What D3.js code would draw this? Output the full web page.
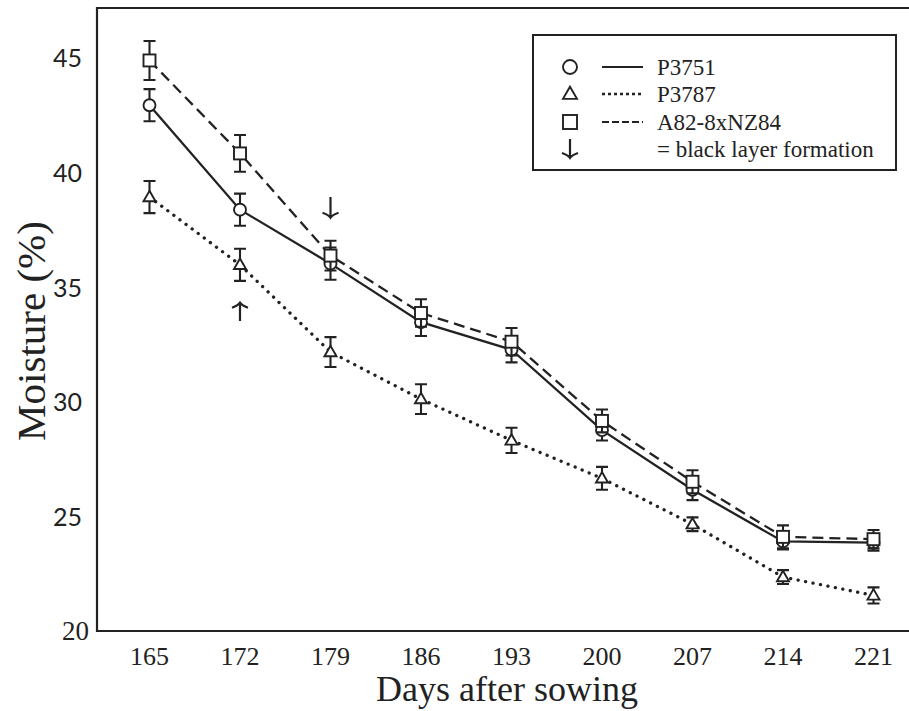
<!DOCTYPE html>
<html lang="en">
<head>
<meta charset="UTF-8">
<title>Moisture</title>
<script src="https://cdn.jsdelivr.net/npm/d3@7"></script>
<style>
  body { margin:0; background:#fff; }
</style>
</head>
<body>
<div id="chart"></div>
<script>
// data
var days = [165, 172, 179, 186, 193, 200, 207, 214, 221];
var p3751    = [42.9, 38.35, 36.0, 33.45, 32.25, 28.75, 26.15, 23.9, 23.85];
var p3751Err = [0.7, 0.7, 0.7, 0.6, 0.55, 0.45, 0.45, 0.35, 0.35];
var p3787    = [38.9, 35.95, 32.15, 30.1, 28.3, 26.65, 24.65, 22.35, 21.55];
var p3787Err = [0.7, 0.7, 0.65, 0.65, 0.55, 0.5, 0.3, 0.3, 0.35];
var a82      = [44.85, 40.8, 36.35, 33.85, 32.6, 29.15, 26.5, 24.1, 24.0];
var a82Err   = [0.85, 0.8, 0.65, 0.6, 0.6, 0.5, 0.5, 0.5, 0.4];
var yTicks = [20, 25, 30, 35, 40, 45];
// black layer formation arrows: day, value of tail, value of head
var arrowDays  = [172, 179];
var arrowFrom  = [33.5, 38.9];
var arrowTo    = [34.3, 38.0];

var seriesNames = ["P3751", "P3787", "A82-8xNZ84"];
var ink = "#222";
var SERIF = "'Liberation Serif','DejaVu Serif',serif";
var SANS = "Lato,'Open Sans',sans-serif";

var W = 909, H = 711;
var plotL = 97, plotT = 8, plotB = 631;

var x = d3.scaleLinear().domain([165, 221]).range([149.5, 873.5]);
var y = d3.scaleLinear().domain([20, 45]).range([631, 57]);

var svg = d3.select("#chart").append("svg")
  .attr("width", W).attr("height", H);

// frame (left, top, bottom)
svg.append("path")
  .attr("d", "M" + W + "," + plotT + "H" + plotL + "V" + plotB + "H" + W)
  .attr("fill", "none").attr("stroke", ink).attr("stroke-width", 2.2);

// y tick labels
svg.selectAll("text.ytick").data(yTicks).enter().append("text")
  .attr("class", "ytick")
  .attr("font-family", function(d){ return d === 20 ? SERIF : SANS; })
  .attr("fill", ink)
  .attr("x", function(d){ return d === 20 ? 89 : 82; })
  .attr("y", function(d){ return y(d); })
  .attr("text-anchor", "end")
  .attr("dominant-baseline", "central")
  .attr("font-size", function(d){ return d === 20 ? 27 : 25; })
  .text(function(d){ return d; });

// x tick labels
svg.selectAll("text.xtick").data(days).enter().append("text")
  .attr("class", "xtick")
  .attr("font-family", SERIF).attr("fill", ink)
  .attr("x", function(d){ return x(d); })
  .attr("y", 665)
  .attr("text-anchor", "middle")
  .attr("font-size", 26)
  .text(function(d){ return d; });

// axis titles
svg.append("text")
  .attr("font-family", SERIF).attr("fill", ink)
  .attr("x", 507).attr("y", 701)
  .attr("text-anchor", "middle").attr("font-size", 36)
  .text("Days after sowing");

svg.append("text")
  .attr("font-family", SERIF).attr("fill", ink)
  .attr("transform", "translate(45,331) rotate(-90)")
  .attr("text-anchor", "middle").attr("font-size", 41)
  .text("Moisture (%)");

// series setup
var series = [
  {name: seriesNames[0], vals: p3751, err: p3751Err, shape: "circle",   dash: null},
  {name: seriesNames[1], vals: p3787, err: p3787Err, shape: "triangle", dash: "0.1 7.5"},
  {name: seriesNames[2], vals: a82,   err: a82Err,   shape: "square",   dash: "11 6"}
];

function marker(g, shape, size) {
  if (shape === "circle") {
    g.append("circle").attr("r", size / 2);
  } else if (shape === "square") {
    g.append("rect").attr("x", -size / 2).attr("y", -size / 2)
      .attr("width", size).attr("height", size);
  } else {
    var h = size * 0.87;
    g.append("path").attr("d", "M0," + (-h * 0.6) + "L" + (size / 2) + "," + (h * 0.4) +
      "L" + (-size / 2) + "," + (h * 0.4) + "Z");
  }
  g.selectAll("*").attr("fill", "#fff").attr("stroke", ink).attr("stroke-width", 1.9);
}

var line = d3.line()
  .x(function(d){ return x(d.day); })
  .y(function(d){ return y(d.v); });

series.forEach(function(s){
  var pts = days.map(function(d, i){ return {day: d, v: s.vals[i], e: s.err[i]}; });
  var dotted = s.dash && s.dash.indexOf("0.1") === 0;
  var p = svg.append("path")
    .attr("d", line(pts))
    .attr("fill", "none").attr("stroke", ink)
    .attr("stroke-width", dotted ? 3.3 : 2.3);
  if (s.dash) p.attr("stroke-dasharray", s.dash);
  if (dotted) p.attr("stroke-linecap", "round");
  s.pts = pts;
});

// error bars + markers
series.forEach(function(s){
  var g = svg.append("g");
  var eb = g.selectAll("g.eb").data(s.pts).enter().append("g")
    .attr("transform", function(d){ return "translate(" + x(d.day) + ",0)"; });
  eb.append("path")
    .attr("d", function(d){
      var y1 = y(d.v + d.e), y2 = y(d.v - d.e);
      return "M0," + y1 + "V" + y2 + "M-6," + y1 + "H6M-6," + y2 + "H6";
    })
    .attr("fill", "none").attr("stroke", ink).attr("stroke-width", 2.1);
  s.pts.forEach(function(d){
    var m = svg.append("g").attr("transform", "translate(" + x(d.day) + "," + y(d.v) + ")");
    marker(m, s.shape, 12);
  });
});

// black layer arrows
function arrow(g, x0, yTail, yHead) {
  var dir = yHead > yTail ? 1 : -1;
  var d = "M" + x0 + "," + yTail + "V" + yHead +
    "M" + (x0 - 8) + "," + (yHead - dir * 5) +
    "Q" + (x0 - 2) + "," + (yHead - dir * 3) + " " + x0 + "," + yHead +
    "Q" + (x0 + 2) + "," + (yHead - dir * 3) + " " + (x0 + 8) + "," + (yHead - dir * 5);
  g.append("path").attr("d", d).attr("fill", "none")
    .attr("stroke", ink).attr("stroke-width", 2.2);
}
arrowDays.forEach(function(d, i){
  arrow(svg, x(d), y(arrowFrom[i]), y(arrowTo[i]));
});

// legend
svg.append("rect")
  .attr("x", 533).attr("y", 35).attr("width", 363).attr("height", 135)
  .attr("fill", "#fff").attr("stroke", ink).attr("stroke-width", 2);

var rowY = [67, 94, 122, 149];
series.forEach(function(s, i){
  var m = svg.append("g").attr("transform", "translate(570," + rowY[i] + ")");
  marker(m, s.shape, 14);
  var dotted = s.dash && s.dash.indexOf("0.1") === 0;
  var l = svg.append("line")
    .attr("x1", 602).attr("x2", 643).attr("y1", rowY[i]).attr("y2", rowY[i])
    .attr("stroke", ink).attr("stroke-width", dotted ? 2.4 : 1.8);
  if (s.dash) l.attr("stroke-dasharray", dotted ? "3 3" : "7 3");
  svg.append("text")
    .attr("font-family", SERIF).attr("fill", ink)
    .attr("x", 657).attr("y", rowY[i])
    .attr("dominant-baseline", "central").attr("font-size", 23)
    .text(s.name);
});
arrow(svg, 570, rowY[3] - 10, rowY[3] + 9);
svg.append("text")
  .attr("font-family", SERIF).attr("fill", ink)
  .attr("x", 657).attr("y", rowY[3])
  .attr("dominant-baseline", "central").attr("font-size", 23)
  .text("= black layer formation");
</script>
</body>
</html>
